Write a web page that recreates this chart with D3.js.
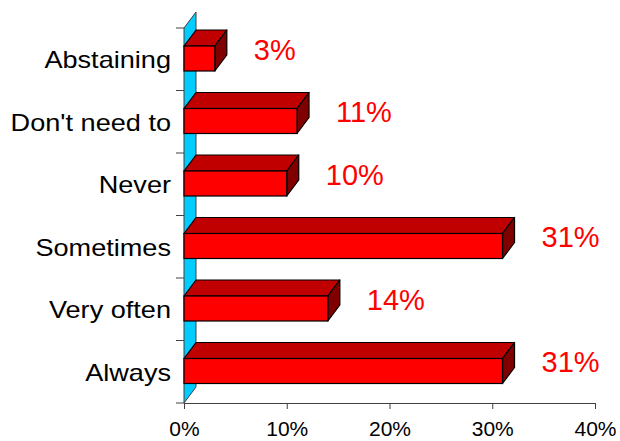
<!DOCTYPE html>
<html>
<head>
<meta charset="utf-8">
<script src="https://cdn.jsdelivr.net/npm/d3@7"></script>
<style>
  html, body { margin: 0; padding: 0; background: #fff; }
  svg { display: block; }
</style>
</head>
<body>
<svg id="chart" width="620" height="441"></svg>
<script>
const categories = ["Abstaining", "Don't need to", "Never", "Sometimes", "Very often", "Always"];
const values = [3, 11, 10, 31, 14, 31];
const xTicks = [0, 10, 20, 30, 40];

const svg = d3.select("#chart");
const x = d3.scaleLinear().domain([0, 40]).range([184, 595]);
const y = d3.scaleBand().domain(categories).range([28, 403]).paddingInner(0).paddingOuter(0);
const DX = 12, DY = -16;
const barOff = 18, barH = 25;

// back wall (blue)
const x0 = x(0), yTop = y.range()[0], yBot = y.range()[1];
svg.append("path")
  .attr("d", `M${x0},${yTop} L${x0 + DX},${yTop + DY} L${x0 + DX},${yBot + DY} L${x0},${yBot} Z`)
  .attr("fill", "#00CCFF").attr("stroke", "#404040").attr("stroke-width", 1);

// y axis ticks (category boundaries)
const bounds = categories.map(c => y(c)).concat([yBot]);
svg.append("g").selectAll("line").data(bounds).join("line")
  .attr("x1", x0 - 8).attr("x2", x0).attr("y1", d => d).attr("y2", d => d)
  .attr("stroke", "#404040").attr("stroke-width", 1);

// x axis
const xAxis = d3.axisBottom(x).tickValues(xTicks).tickFormat(d => d + "%").tickSize(6).tickSizeOuter(0);
const gx = svg.append("g").attr("transform", `translate(0,${yBot})`).call(xAxis);
gx.select(".domain").attr("stroke", "#404040");
gx.selectAll(".tick line").attr("stroke", "#404040");
gx.selectAll(".tick text")
  .attr("font-family", "Arial, 'Liberation Sans', sans-serif")
  .attr("font-size", 21).attr("fill", "#000").attr("y", 33).attr("dy", null);

// category labels
svg.append("g").selectAll("text").data(categories).join("text")
  .attr("transform", c => `translate(171,${y(c) + y.bandwidth() / 2 + 9}) scale(1.13,1)`)
  .attr("text-anchor", "end")
  .attr("font-family", "Arial, 'Liberation Sans', sans-serif")
  .attr("font-size", 24).attr("fill", "#000")
  .text(c => c);

// bars
const data = categories.map((c, i) => ({ c, v: values[i] }));
const bars = svg.append("g").selectAll("g").data(data).join("g");
bars.append("path") // top face
  .attr("d", d => {
    const yt = y(d.c) + barOff, xs = x(0), xe = x(d.v);
    return `M${xs},${yt} L${xs + DX},${yt + DY} L${xe + DX},${yt + DY} L${xe},${yt} Z`;
  })
  .attr("fill", "#C00000").attr("stroke", "#000").attr("stroke-width", 1.2).attr("stroke-linejoin", "round");
bars.append("path") // side face
  .attr("d", d => {
    const yt = y(d.c) + barOff, xe = x(d.v);
    return `M${xe},${yt} L${xe + DX},${yt + DY} L${xe + DX},${yt + DY + barH} L${xe},${yt + barH} Z`;
  })
  .attr("fill", "#800000").attr("stroke", "#000").attr("stroke-width", 1.2).attr("stroke-linejoin", "round");
bars.append("rect") // front
  .attr("x", x(0)).attr("y", d => y(d.c) + barOff)
  .attr("width", d => x(d.v) - x(0)).attr("height", barH)
  .attr("fill", "#FF0000").attr("stroke", "#000").attr("stroke-width", 1.2);

// value labels
svg.append("g").selectAll("text").data(data).join("text")
  .attr("x", d => x(d.v) + 39)
  .attr("y", d => y(d.c) + y.bandwidth() / 2 + 0.5)
  .attr("font-family", "Arial, 'Liberation Sans', sans-serif")
  .attr("font-size", 29).attr("fill", "#FF0000")
  .text(d => d.v + "%");
</script>
</body>
</html>
